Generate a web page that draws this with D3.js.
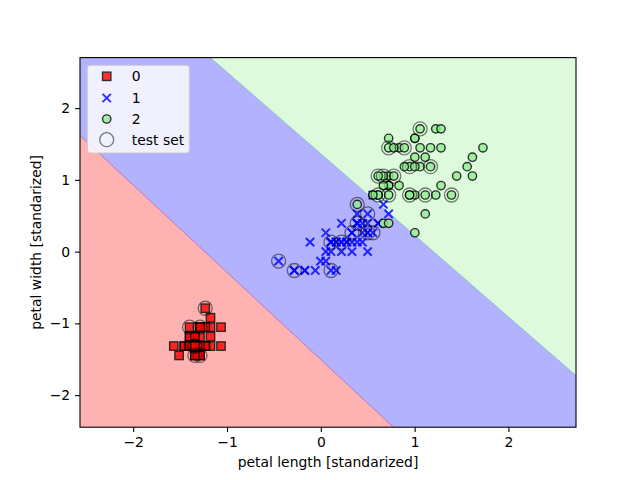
<!DOCTYPE html>
<html>
<head>
<meta charset="utf-8">
<script src="https://cdn.jsdelivr.net/npm/d3@7"></script>
<style>
  body { margin: 0; background: #fff; }
  text { font-family: "DejaVu Sans", sans-serif; }
</style>
</head>
<body>
<div id="chart"></div>
<script>
// standardized petal length / width, per class
var setosaX = [-1.343,-1.343,-1.399,-1.288,-1.343,-1.176,-1.343,-1.288,-1.343,-1.288,
  -1.288,-1.232,-1.343,-1.511,-1.455,-1.288,-1.399,-1.343,-1.176,-1.288,
  -1.176,-1.288,-1.567,-1.176,-1.064,-1.232,-1.232,-1.288,-1.343,-1.232,
  -1.232,-1.288,-1.288,-1.343,-1.288,-1.455,-1.399,-1.343,-1.399,-1.288,
  -1.399,-1.399,-1.399,-1.232,-1.064,-1.343,-1.232,-1.343,-1.288,-1.343];
var setosaY = [-1.316,-1.316,-1.316,-1.316,-1.316,-1.053,-1.184,-1.316,-1.316,-1.447,
  -1.316,-1.316,-1.447,-1.447,-1.316,-1.053,-1.053,-1.184,-1.184,-1.184,
  -1.316,-1.053,-1.316,-0.921,-1.316,-1.316,-1.053,-1.316,-1.316,-1.316,
  -1.316,-1.053,-1.447,-1.316,-1.316,-1.316,-1.316,-1.447,-1.316,-1.316,
  -1.184,-1.184,-1.316,-0.789,-1.053,-1.184,-1.316,-1.316,-1.316,-1.316];

var versicolorX = [0.499,0.388,0.611,0.108,0.443,0.388,0.499,-0.283,0.443,0.053,
  -0.171,0.220,0.108,0.499,-0.115,0.332,0.388,0.164,0.388,0.053,
  0.555,0.108,0.611,0.499,0.276,0.332,0.555,0.667,0.388,-0.171,
  -0.003,-0.059,0.053,0.723,0.388,0.388,0.499,0.332,0.164,0.108,
  0.332,0.443,0.108,-0.283,0.220,0.220,0.220,0.276,-0.450,0.164];
var versicolorY = [0.263,0.395,0.395,0.132,0.395,0.132,0.526,-0.263,0.132,0.263,
  -0.263,0.395,-0.263,0.263,0.132,0.263,0.395,-0.263,0.395,-0.132,
  0.789,0.132,0.395,0.000,0.132,0.263,0.263,0.658,0.395,-0.263,
  -0.132,-0.263,0.000,0.526,0.395,0.526,0.395,0.132,0.132,0.132,
  0.000,0.263,0.000,-0.263,0.132,0.000,0.132,0.132,-0.132,0.132];

var virginicaX = [1.225,0.723,1.169,1.002,1.113,1.560,0.388,1.393,1.113,1.281,
  0.723,0.834,0.946,0.667,0.723,0.834,0.946,1.616,1.728,0.667,
  1.058,0.611,1.616,0.611,1.058,1.225,0.555,0.611,1.002,1.113,
  1.281,1.448,1.002,0.723,1.002,1.281,1.002,0.946,0.555,0.890,
  1.002,0.723,0.723,1.169,1.058,0.778,0.667,0.778,0.890,0.723];
var virginicaY = [1.711,0.921,1.184,0.789,1.316,1.184,0.658,0.789,0.789,1.711,
  1.053,0.921,1.184,1.053,1.579,1.447,0.789,1.316,1.447,0.395,
  1.447,1.053,1.053,0.789,1.184,0.789,0.789,0.789,1.184,0.526,
  0.921,1.053,1.316,0.395,0.263,1.447,1.579,0.789,0.789,1.184,
  1.579,1.447,0.921,1.447,1.711,1.447,0.921,1.053,1.447,0.789];

// test samples (circled)
var testX = [-1.232,-1.399,-1.288,-1.343,-1.343,-1.288,-1.343,
  -0.450,-0.283,0.108,0.108,0.220,0.332,0.388,0.499,0.499,0.555,
  1.058,0.723,0.890,1.169,0.946,0.611,0.667,0.778,0.611,0.723,1.113,1.393,0.388,0.946];
var testY = [-0.789,-1.053,-1.053,-1.316,-1.447,-1.447,-1.316,
  -0.132,-0.263,-0.263,0.132,0.132,0.263,0.395,0.526,0.263,0.263,
  1.711,1.447,1.447,1.184,1.184,1.053,1.053,1.053,0.789,0.789,0.789,0.789,0.658,0.789];

// decision boundaries (two end points each, data units)
var boundaryRedBlue = [[-2.567, 1.617], [0.774, -2.447]];
var boundaryBlueGreen = [[-1.179, 2.704], [2.72, -1.728]];

var xDomain = [-2.567, 2.72];
var yDomain = [-2.447, 2.704];
var xTicks = [-2, -1, 0, 1, 2];
var yTicks = [-2, -1, 0, 1, 2];
var classLabels = ["0", "1", "2", "test set"];

var W = 640, H = 480;
var margin = {top: 57.6, right: 64, bottom: 52.8, left: 80};

var svg = d3.select("#chart").append("svg")
  .attr("width", W)
  .attr("height", H);

var x = d3.scaleLinear().domain(xDomain).range([margin.left, W - margin.right]);
var y = d3.scaleLinear().domain(yDomain).range([H - margin.bottom, margin.top]);

// regions
var x0 = xDomain[0], x1 = xDomain[1], y0 = yDomain[0], y1 = yDomain[1];
var rb = boundaryRedBlue, bg = boundaryBlueGreen;
var regions = [
  {fill: "red", pts: [[x0, y0], [x0, rb[0][1]], [rb[1][0], y0]]},
  {fill: "blue", pts: [[x0, rb[0][1]], [x0, y1], [bg[0][0], y1], [x1, bg[1][1]], [x1, y0], [rb[1][0], y0]]},
  {fill: "lightgreen", pts: [[bg[0][0], y1], [x1, y1], [x1, bg[1][1]]]}
];
var line = d3.line().x(function(d) { return x(d[0]); }).y(function(d) { return y(d[1]); });

svg.append("g").selectAll("path")
  .data(regions).enter().append("path")
  .attr("d", function(d) { return line(d.pts) + "Z"; })
  .attr("fill", function(d) { return d.fill; })
  .attr("fill-opacity", 0.3);

svg.append("path").attr("d", line(rb))
  .attr("stroke", "#a04cb0").attr("stroke-width", 1).attr("stroke-opacity", 0.6).attr("fill", "none");
svg.append("path").attr("d", line(bg))
  .attr("stroke", "#5cb0c0").attr("stroke-width", 1).attr("stroke-opacity", 0.6).attr("fill", "none");

// markers
var ms = 8.33;
function crossPath(h) {
  return "M" + (-h) + "," + (-h) + "L" + h + "," + h + "M" + (-h) + "," + h + "L" + h + "," + (-h);
}
function pairs(xs, ys) { return xs.map(function(v, i) { return [v, ys[i]]; }); }

svg.append("g").selectAll("rect")
  .data(pairs(setosaX, setosaY)).enter().append("rect")
  .attr("x", function(d) { return x(d[0]) - ms / 2; })
  .attr("y", function(d) { return y(d[1]) - ms / 2; })
  .attr("width", ms).attr("height", ms)
  .attr("fill", "red").attr("stroke", "black").attr("stroke-width", 1.4)
  .attr("opacity", 0.8);

svg.append("g").selectAll("path")
  .data(pairs(versicolorX, versicolorY)).enter().append("path")
  .attr("transform", function(d) { return "translate(" + x(d[0]) + "," + y(d[1]) + ")"; })
  .attr("d", crossPath(ms / 2))
  .attr("stroke", "blue").attr("stroke-width", 2).attr("fill", "none")
  .attr("opacity", 0.8);

svg.append("g").selectAll("circle")
  .data(pairs(virginicaX, virginicaY)).enter().append("circle")
  .attr("cx", function(d) { return x(d[0]); })
  .attr("cy", function(d) { return y(d[1]); })
  .attr("r", ms / 2)
  .attr("fill", "lightgreen").attr("stroke", "black").attr("stroke-width", 1.4)
  .attr("opacity", 0.8);

svg.append("g").selectAll("circle")
  .data(pairs(testX, testY)).enter().append("circle")
  .attr("cx", function(d) { return x(d[0]); })
  .attr("cy", function(d) { return y(d[1]); })
  .attr("r", 7)
  .attr("fill", "none").attr("stroke", "black").attr("stroke-width", 1.3)
  .attr("stroke-opacity", 0.5);

// axes
var xAxis = svg.append("g")
  .attr("transform", "translate(0," + (H - margin.bottom) + ")")
  .call(d3.axisBottom(x).tickValues(xTicks).tickSize(4.9).tickPadding(4.9).tickFormat(d3.format("d")));
var yAxis = svg.append("g")
  .attr("transform", "translate(" + margin.left + ",0)")
  .call(d3.axisLeft(y).tickValues(yTicks).tickSize(4.9).tickPadding(4.9).tickFormat(d3.format("d")));
[xAxis, yAxis].forEach(function(a) {
  a.select(".domain").remove();
  a.selectAll("text").attr("font-size", 13.9).attr("font-family", "DejaVu Sans").attr("fill", "#000");
  a.selectAll("line").attr("stroke", "#000").attr("stroke-width", 1.1);
});

svg.append("rect")
  .attr("x", margin.left).attr("y", margin.top)
  .attr("width", W - margin.left - margin.right)
  .attr("height", H - margin.top - margin.bottom)
  .attr("fill", "none").attr("stroke", "#000").attr("stroke-width", 1.1);

svg.append("text")
  .attr("x", (margin.left + W - margin.right) / 2).attr("y", 467)
  .attr("text-anchor", "middle").attr("font-size", 13.9)
  .text("petal length [standarized]");
svg.append("text")
  .attr("transform", "translate(41," + ((margin.top + H - margin.bottom) / 2) + ") rotate(-90)")
  .attr("text-anchor", "middle").attr("font-size", 13.9)
  .text("petal width [standarized]");

// legend
var lg = svg.append("g").attr("transform", "translate(87.3,65.3)");
lg.append("rect").attr("width", 102).attr("height", 87.7).attr("rx", 3)
  .attr("fill", "white").attr("fill-opacity", 0.8).attr("stroke", "#cccccc").attr("stroke-width", 1);
var rowY = [11, 32.7, 53.7, 74.4];
var mx = 19.4;
lg.append("rect").attr("x", mx - ms / 2).attr("y", rowY[0] - ms / 2).attr("width", ms).attr("height", ms)
  .attr("fill", "red").attr("stroke", "black").attr("stroke-width", 1.4).attr("opacity", 0.8);
lg.append("path").attr("transform", "translate(" + mx + "," + rowY[1] + ")").attr("d", crossPath(ms / 2))
  .attr("stroke", "blue").attr("stroke-width", 2).attr("opacity", 0.8);
lg.append("circle").attr("cx", mx).attr("cy", rowY[2]).attr("r", ms / 2)
  .attr("fill", "lightgreen").attr("stroke", "black").attr("stroke-width", 1.4).attr("opacity", 0.8);
lg.append("circle").attr("cx", mx).attr("cy", rowY[3]).attr("r", 7)
  .attr("fill", "none").attr("stroke", "black").attr("stroke-width", 1.3).attr("stroke-opacity", 0.5);
lg.selectAll("text.lab").data(classLabels).enter().append("text")
  .attr("class", "lab")
  .attr("x", 44.5).attr("y", function(d, i) { return rowY[i] + 5; })
  .attr("font-size", 13.9)
  .text(function(d) { return d; });
</script>
</body>
</html>
